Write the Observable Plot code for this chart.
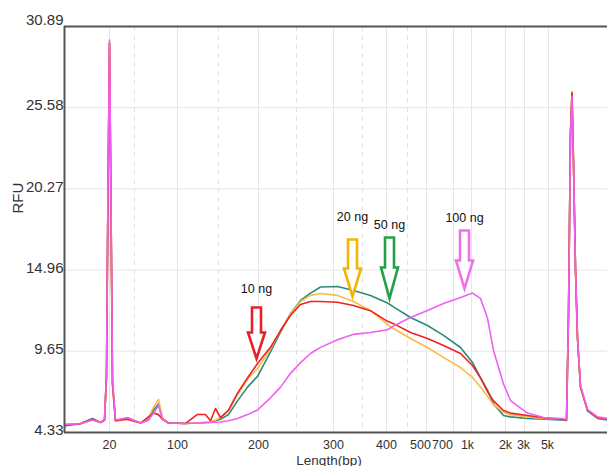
<!DOCTYPE html>
<html><head><meta charset="utf-8">
<script src="https://cdn.jsdelivr.net/npm/d3@7"></script>
<script src="https://cdn.jsdelivr.net/npm/@observablehq/plot@0.6"></script>
<style>body{margin:0;background:#fff}#chart svg{display:block}</style>
</head><body><div id="chart"></div>
<script>
// scan index (migration position) of each sample point
const scan = [1,16,28,36,40,42,43.5,45,46.5,48,51,63,76,84,89,94,98,104,121,133,141,146,151,156,164,173,183,193,206,216,226,236,246,256,273,289,306,323,329,346,363,379,396,408,416,423,429,439,446,463,479,496,502,504,506,507.5,509,511,513,516,523,533,543];
const ng10 = [4.78,4.90,5.20,4.98,5.15,8.0,20,29.8,19,7.5,5.1,5.2,4.95,5.35,5.6,5.5,5.2,4.95,4.92,5.51,5.51,5.1,5.9,5.3,5.8,6.9,7.9,8.84,9.9,11.0,12.0,12.7,12.9,12.9,12.85,12.64,12.3,11.6,11.45,10.87,10.48,10.02,9.5,8.71,7.9,7.0,6.4,5.77,5.6,5.44,5.3,5.2,5.15,12,24,26.55,22,15,10.5,7.3,5.8,5.3,5.2];
const ng20 = [4.85,4.92,5.15,4.98,5.15,8.0,20,29.8,19,7.5,5.1,5.2,4.95,5.3,6.0,6.5,5.3,4.95,4.92,4.97,5.0,5.05,5.15,5.3,5.7,6.8,7.8,8.5,9.8,11.0,12.1,12.9,13.3,13.42,13.3,12.9,12.3,11.4,11.13,10.48,9.89,9.24,8.58,7.93,7.3,6.7,6.15,5.64,5.5,5.35,5.25,5.2,5.15,12,24,26.65,22,15,10.5,7.3,5.8,5.3,5.2];
const ng50 = [4.85,4.92,5.25,4.98,5.15,8.0,20,29.8,19,7.5,5.1,5.3,4.95,5.15,5.8,6.2,5.2,4.95,4.92,4.95,4.98,5.0,5.1,5.2,5.5,6.4,7.3,8.0,9.6,10.9,12.1,12.97,13.45,13.85,13.88,13.62,13.29,12.8,12.55,11.85,11.33,10.68,9.89,8.91,7.9,7.1,6.2,5.44,5.35,5.25,5.2,5.15,5.12,12,24,26.5,22,15,10.5,7.3,5.75,5.25,5.15];
const ng100 = [4.85,4.90,5.15,4.98,5.2,8.2,20.5,30.0,19.5,7.8,5.15,5.3,4.95,5.15,5.6,6.1,5.2,4.95,4.92,4.95,4.97,4.98,5.0,5.02,5.1,5.25,5.5,5.8,6.6,7.3,8.2,8.9,9.5,9.9,10.4,10.75,10.87,11.05,11.3,11.85,12.31,12.77,13.16,13.45,13.1,11.8,9.7,7.5,6.42,5.6,5.31,5.25,5.2,12,23.8,26.3,21.8,15,10.6,7.4,5.85,5.35,5.25];

const yTicks = [4.33, 9.65, 14.96, 20.27, 25.58, 30.89];
const xTickLabels = ["20","100","200","300","400","500","700","1k","2k","3k","5k"];
const xTickScan = [45,113,194,269,322,362,389,407,441,460,484];
const xMinorScan = [70,154,232,298,343];

const arrowLabels = ["10 ng","20 ng","50 ng","100 ng"];
const arrowScan = [192,288,325,400];
const arrowRFU = [9.17,13.23,13.10,13.75];

const series = [
  {name: "50 ng", values: ng50, color: "#2b8a78"},
  {name: "20 ng", values: ng20, color: "#f7bd45"},
  {name: "10 ng", values: ng10, color: "#ec2228"},
  {name: "100 ng", values: ng100, color: "#f05ff0"}
];
const arrowColors = ["#e8202a","#f4b400","#22a148","#f070ea"];
const arrowLen = [51, 57, 61, 58];
const arrowHead = [26, 28, 31, 28];
const labelDy = [-70, -79, -73, -71];
const labelShift = {"500": -6, "700": -11, "1k": -4, "3k": -1, "5k": -1};

function arrowShape(L, H) {
  const w = 4.5, W = 8.5;
  return {
    draw(ctx) {
      ctx.moveTo(-w, -L);
      ctx.lineTo(w, -L);
      ctx.lineTo(w, -H);
      ctx.lineTo(W, -H);
      ctx.lineTo(0, 0);
      ctx.lineTo(-W, -H);
      ctx.lineTo(-w, -H);
      ctx.closePath();
    }
  };
}

const font = "'Liberation Sans', Arial, sans-serif";
const marks = [
  Plot.ruleY(yTicks.slice(1, -1), {stroke: "#e6e6e6", strokeWidth: 1}),
  Plot.ruleX(xTickScan, {stroke: "#e6e6e6", strokeWidth: 1}),
  Plot.ruleX(xMinorScan, {stroke: "#e2e2e2", strokeWidth: 1, strokeDasharray: "5,4"}),
];
for (const s of series) {
  marks.push(Plot.line(scan.map((x, i) => ({x, y: s.values[i]})), {x: "x", y: "y", stroke: s.color, strokeWidth: 1.6}));
}
marks.push(
  Plot.ruleX([0], {stroke: "#555", strokeWidth: 2}),
  Plot.ruleY([yTicks[0], yTicks[yTicks.length - 1]], {stroke: "#555", strokeWidth: 2}),
  Plot.text(yTicks.slice(0, -1), {x: 0, y: d => d, text: d => d.toFixed(2), textAnchor: "end", dx: -1, dy: -2, fontSize: 15, fill: "#333"}),
  Plot.text(yTicks.slice(-1), {x: 0, y: d => d, text: d => d.toFixed(2), textAnchor: "end", dx: -1, dy: -6, fontSize: 15, fill: "#333"}),
  Plot.text(xTickLabels, {x: (d, i) => xTickScan[i] + (labelShift[d] || 0), y: yTicks[0], text: d => d, dy: 12, fontSize: 12.5, fill: "#333"})
);
arrowLabels.forEach((lab, i) => {
  marks.push(
    Plot.dot([lab], {x: () => arrowScan[i], y: () => arrowRFU[i], symbol: arrowShape(arrowLen[i], arrowHead[i]), r: 5, fill: "white", stroke: arrowColors[i], strokeWidth: 2.6, strokeLinejoin: "miter"}),
    Plot.text([lab], {x: () => arrowScan[i], y: () => arrowRFU[i], text: d => d, dy: labelDy[i], fontSize: 12.5, fill: "#111"})
  );
});
marks.push(
  Plot.text(["Length(bp)"], {frameAnchor: "bottom", text: d => d, dx: -7, dy: 32, fontSize: 13.5, fill: "#333"}),
  Plot.text(["RFU"], {frameAnchor: "left", text: d => d, rotate: -90, dx: -46, dy: -16, fontSize: 15, fill: "#333"})
);

const chart = Plot.plot({
  width: 607, height: 466,
  marginLeft: 64, marginRight: 0, marginTop: 26, marginBottom: 34,
  x: {domain: [0, 543], axis: null},
  y: {domain: [4.33, 30.89], axis: null},
  style: {fontFamily: font, background: "white", overflow: "visible"},
  marks
});
document.getElementById("chart").appendChild(chart);
</script>
</body></html>
